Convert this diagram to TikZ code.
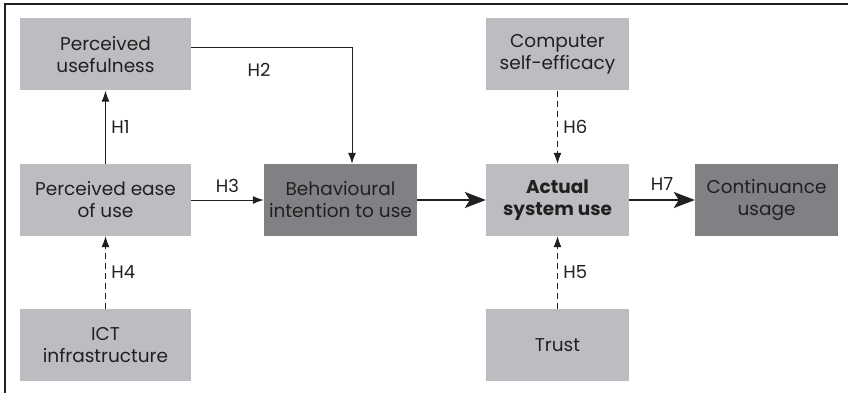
\documentclass[tikz,border=0pt]{standalone}
\usepackage{fontspec}
\setmainfont{Poppins}
\usetikzlibrary{arrows.meta}
\definecolor{boxlight}{HTML}{BCBDC0}
\definecolor{boxdark}{HTML}{808184}
\definecolor{ink}{HTML}{231F20}
\tikzset{box/.style = {fill=boxlight, draw=none, text=ink, align=center,
                       minimum height=72pt, font=\fontsize{18.5}{22}\selectfont},
         wide/.style = {box, minimum width=171pt},
         narrow/.style = {box, minimum width=143pt},
         hlabel/.style = {text=ink, font=\fontsize{18}{20}\selectfont},
         link/.style = {draw=ink, line width=1pt, -{Latex[length=11pt, width=8pt]}},
         weak/.style = {link, dash pattern=on 6pt off 4pt},
         strong/.style = {draw=ink, line width=2.2pt, -{Stealth[length=21pt, width=16pt, inset=5pt]}}}

\begin{document}
\begin{tikzpicture}[x=1pt, y=-1pt]
    \useasboundingbox (0, 0) rectangle (848, 393);
    \draw [ink, line width=1.5pt] (5, 393) -- (5, 4) -- (848, 4);
    \node [wide] (pu) at (105.5, 54.5) {Perceived\\usefulness};
    \node [wide] (peu) at (105.5, 200) {Perceived ease\\of use};
    \node [wide] (ict) at (105.5, 345) {ICT\\infrastructure};
    \node [box, fill=boxdark, minimum width=153pt] (bi) at (340.5, 200) {Behavioural\\intention to use};
    \node [narrow] (cse) at (557.5, 54.5) {Computer\\self-efficacy};
    \node [narrow, font=\fontsize{18.5}{22}\selectfont\bfseries] (asu) at (557.5, 200) {Actual\\system use};
    \node [narrow] (trust) at (557.5, 345) {Trust};
    \node [narrow, fill=boxdark] (cu) at (766.5, 200) {Continuance\\usage};
    \coordinate (corner) at (352, 48);
    \draw [link] (peu) -- (pu) node [hlabel, midway, right=2pt] {H1};
    \draw [link] (pu.east |- corner) -- (corner) -- (corner |- bi.north);
    \node [hlabel] (h2) at (259, 70) {H2};
    \draw [link] (peu) -- (bi) node [hlabel, midway, above=4pt] {H3};
    \draw [weak] (ict) -- (peu) node [hlabel, midway, right=2pt] {H4};
    \draw [strong] (bi) -- (asu);
    \draw [weak] (trust) -- (asu) node [hlabel, midway, right=2pt] {H5};
    \draw [weak] (cse) -- (asu) node [hlabel, midway, right=2pt] {H6};
    \draw [strong] (asu) -- (cu) node [hlabel, midway, above=5pt] {H7};
  \end{tikzpicture}
\end{document}
